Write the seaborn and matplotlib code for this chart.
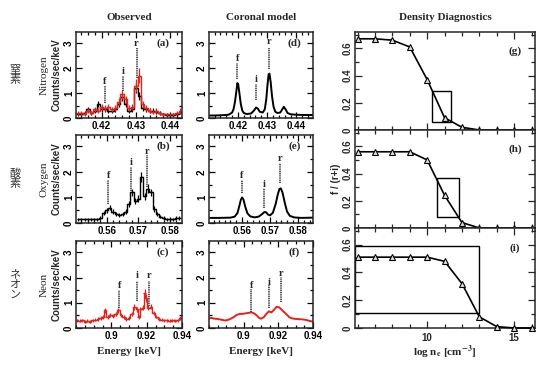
import matplotlib
matplotlib.use("Agg")
import matplotlib.pyplot as plt
from matplotlib.patches import Rectangle
from matplotlib.ticker import MultipleLocator
import seaborn as sns

# ---- observed spectra (bin centre energy [keV], counts/sec/keV, error) ----
n_energy = [0.413, 0.414, 0.415, 0.416, 0.417, 0.418, 0.419, 0.420, 0.421, 0.422,
            0.423, 0.424, 0.425, 0.426, 0.427, 0.428, 0.429, 0.430, 0.431, 0.432,
            0.433, 0.434, 0.435, 0.436, 0.437, 0.438, 0.439, 0.440, 0.441, 0.442, 0.443]
n_black = [0.15, 0.15, 0.20, 0.35, 0.20, 0.30, 0.55, 0.35, 0.35, 0.30,
           0.30, 0.35, 0.55, 0.85, 0.55, 0.30, 0.35, 1.20, 0.90, 0.40,
           0.35, 0.30, 0.30, 0.25, 0.20, 0.15, 0.12, 0.12, 0.12, 0.15, 0.25]
n_black_err = [0.08, 0.08, 0.08, 0.10, 0.08, 0.09, 0.12, 0.10, 0.10, 0.09,
               0.09, 0.10, 0.12, 0.15, 0.12, 0.09, 0.10, 0.20, 0.16, 0.10,
               0.10, 0.09, 0.09, 0.08, 0.08, 0.07, 0.07, 0.07, 0.07, 0.07, 0.09]
n_red = [0.20, 0.22, 0.18, 0.30, 0.22, 0.35, 0.30, 0.45, 0.40, 0.45,
         0.35, 0.40, 0.65, 0.95, 0.75, 0.40, 0.45, 1.30, 1.70, 0.55,
         0.40, 0.30, 0.25, 0.30, 0.20, 0.15, 0.15, 0.15, 0.15, 0.20, 0.30]
n_red_err = [0.08, 0.08, 0.08, 0.10, 0.08, 0.10, 0.09, 0.12, 0.11, 0.12,
             0.10, 0.11, 0.14, 0.18, 0.15, 0.11, 0.12, 0.25, 0.30, 0.13,
             0.11, 0.09, 0.09, 0.09, 0.08, 0.07, 0.07, 0.07, 0.07, 0.08, 0.10]

o_energy = [0.551, 0.552, 0.553, 0.554, 0.555, 0.556, 0.557, 0.558, 0.559, 0.560,
            0.561, 0.562, 0.563, 0.564, 0.565, 0.566, 0.567, 0.568, 0.569, 0.570,
            0.571, 0.572, 0.573, 0.574, 0.575, 0.576, 0.577, 0.578, 0.579, 0.580,
            0.581, 0.582, 0.583]
o_black = [0.15, 0.15, 0.15, 0.15, 0.15, 0.15, 0.15, 0.20, 0.40, 0.50,
           0.60, 0.45, 0.35, 0.30, 0.35, 0.45, 0.75, 1.20, 0.85, 0.95,
           1.80, 1.05, 1.35, 1.20, 0.55, 0.35, 0.25, 0.20, 0.15, 0.15,
           0.15, 0.20, 0.20]
o_black_err = [0.06, 0.06, 0.06, 0.06, 0.06, 0.06, 0.06, 0.07, 0.09, 0.10,
               0.10, 0.09, 0.08, 0.08, 0.08, 0.09, 0.12, 0.15, 0.12, 0.13,
               0.20, 0.14, 0.16, 0.15, 0.10, 0.08, 0.07, 0.07, 0.06, 0.06,
               0.06, 0.07, 0.07]

ne_energy = [0.8805, 0.8820, 0.8835, 0.8850, 0.8865, 0.8880, 0.8895, 0.8910, 0.8925, 0.8940,
             0.8955, 0.8965, 0.8980, 0.8995, 0.9010, 0.9025, 0.9040, 0.9055, 0.9070, 0.9085,
             0.9100, 0.9115, 0.9130, 0.9145, 0.9155, 0.9165, 0.9178, 0.9188, 0.9198, 0.9210,
             0.9225, 0.9240, 0.9255, 0.9270, 0.9285, 0.9300, 0.9315, 0.9330, 0.9345, 0.9360,
             0.9375, 0.9390]
ne_red = [0.30, 0.28, 0.30, 0.25, 0.28, 0.25, 0.30, 0.32, 0.35, 0.40,
          0.45, 0.70, 0.45, 0.50, 0.48, 0.55, 0.70, 0.50, 0.45, 0.35,
          0.40, 0.55, 0.85, 0.75, 0.45, 0.75, 0.80, 1.40, 1.20, 0.80,
          0.85, 0.60, 0.45, 0.35, 0.32, 0.30, 0.30, 0.28, 0.30, 0.28,
          0.30, 0.40]
ne_red_err = [0.06, 0.06, 0.06, 0.06, 0.06, 0.06, 0.06, 0.06, 0.07, 0.07,
              0.08, 0.10, 0.08, 0.08, 0.08, 0.08, 0.10, 0.08, 0.08, 0.07,
              0.08, 0.08, 0.12, 0.10, 0.08, 0.10, 0.10, 0.15, 0.15, 0.10,
              0.10, 0.08, 0.07, 0.07, 0.06, 0.06, 0.06, 0.06, 0.06, 0.06,
              0.06, 0.08]

# ---- coronal model spectra ----
nm_energy = [0.4100, 0.4120, 0.4140, 0.4160, 0.4170, 0.4180, 0.4185, 0.4190, 0.4195, 0.4198,
             0.4201, 0.4205, 0.4210, 0.4215, 0.4220, 0.4230, 0.4245, 0.4255, 0.4262, 0.4268,
             0.4275, 0.4285, 0.4292, 0.4297, 0.4301, 0.4305, 0.4308, 0.4312, 0.4317, 0.4322,
             0.4328, 0.4335, 0.4345, 0.4352, 0.4357, 0.4363, 0.4370, 0.4380, 0.4400, 0.4430,
             0.4457]
nm_flux = [0.10, 0.10, 0.11, 0.12, 0.14, 0.22, 0.35, 0.65, 1.10, 1.40,
           1.35, 1.00, 0.55, 0.30, 0.20, 0.16, 0.18, 0.30, 0.42, 0.38,
           0.25, 0.22, 0.35, 0.75, 1.30, 1.75, 1.78, 1.45, 0.85, 0.45,
           0.25, 0.20, 0.22, 0.35, 0.45, 0.35, 0.20, 0.15, 0.13, 0.12,
           0.12]

om_energy = [0.5484, 0.5520, 0.5560, 0.5575, 0.5585, 0.5592, 0.5597, 0.5601, 0.5606, 0.5612,
             0.5620, 0.5630, 0.5645, 0.5660, 0.5672, 0.5680, 0.5686, 0.5693, 0.5700, 0.5710,
             0.5720, 0.5727, 0.5733, 0.5738, 0.5744, 0.5752, 0.5760, 0.5770, 0.5785, 0.5810,
             0.5852]
om_flux = [0.20, 0.20, 0.21, 0.25, 0.40, 0.70, 0.92, 1.00, 0.92, 0.65,
           0.38, 0.26, 0.22, 0.25, 0.35, 0.43, 0.42, 0.33, 0.30, 0.40,
           0.75, 1.10, 1.33, 1.36, 1.20, 0.80, 0.45, 0.28, 0.22, 0.20,
           0.21]

nem_energy = [0.8800, 0.8815, 0.8830, 0.8850, 0.8870, 0.8890, 0.8905, 0.8920, 0.8940, 0.8960,
              0.8980, 0.8995, 0.9010, 0.9030, 0.9045, 0.9060, 0.9075, 0.9090, 0.9100, 0.9115,
              0.9130, 0.9145, 0.9160, 0.9175, 0.9190, 0.9205, 0.9220, 0.9235, 0.9250, 0.9265,
              0.9280, 0.9300, 0.9320, 0.9340, 0.9360, 0.9380, 0.9400]
nem_flux = [0.38, 0.40, 0.37, 0.36, 0.33, 0.30, 0.31, 0.35, 0.42, 0.52,
            0.56, 0.56, 0.58, 0.60, 0.62, 0.58, 0.50, 0.40, 0.37, 0.42,
            0.55, 0.66, 0.62, 0.72, 0.84, 0.82, 0.72, 0.62, 0.52, 0.42,
            0.38, 0.36, 0.35, 0.34, 0.32, 0.28, 0.25]

# ---- f / i / r line markers: energy, line bottom, line top, letter height ----
line_names = ["f", "i", "r"]
a_pos, a_lo, a_hi, a_lab = [0.4210, 0.4263, 0.4302], [0.60, 1.08, 1.60], [1.30, 1.70, 2.80], [1.48, 1.87, 3.00]
b_pos, b_lo, b_hi, b_lab = [0.5605, 0.5677, 0.5726], [0.73, 1.26, 1.40], [1.70, 2.20, 2.66], [1.86, 2.36, 2.82]
c_pos, c_lo, c_hi, c_lab = [0.9045, 0.9144, 0.9213], [0.81, 1.08, 0.88], [1.52, 1.88, 1.88], [1.68, 2.08, 2.08]
d_pos, d_lo, d_hi, d_lab = [0.4198, 0.4263, 0.4307], [1.55, 0.72, 1.97], [2.20, 1.35, 2.80], [2.39, 1.55, 3.08]
e_pos, e_lo, e_hi, e_lab = [0.5600, 0.5680, 0.5736], [1.17, 0.57, 1.57], [1.70, 1.37, 2.37], [1.85, 1.49, 2.52]
f_pos, f_lo, f_hi, f_lab = [0.9045, 0.9146, 0.9218], [0.65, 0.79, 1.04], [1.56, 1.69, 2.02], [1.69, 1.82, 2.15]

# ---- density diagnostics ----
log_ne = [6, 7, 8, 9, 10, 11, 12, 13, 14, 15, 16]
ratio_n = [0.67, 0.67, 0.66, 0.61, 0.37, 0.09, 0.02, 0.0, 0.0, 0.0, 0.0]
ratio_o = [0.56, 0.56, 0.56, 0.56, 0.50, 0.24, 0.04, 0.0, 0.0, 0.0, 0.0]
ratio_ne = [0.51, 0.51, 0.51, 0.51, 0.51, 0.48, 0.32, 0.08, 0.01, 0.0, 0.0]
# measured ranges: log n min, log n max, ratio min, ratio max
box_n = [10.29, 11.39, 0.057, 0.286]
box_o = [10.58, 11.83, 0.08, 0.364]
box_ne = [5.85, 13.0, 0.11, 0.593]

row_names = ["Nitrogen", "Oxygen", "Neon"]
row_names_jp = ["窒素", "酸素", "ネオン"]

spec_yticks = [0, 1, 2, 3]
n_xticks = [0.42, 0.43, 0.44]
o_xticks = [0.56, 0.57, 0.58]
ne_xticks = [0.9, 0.92, 0.94]
ratio_yticks = [0, 0.2, 0.4, 0.6]
logn_xticks = [10, 15]

SERIF = "Liberation Serif"
SANS = "Liberation Sans"
TICKFONT = dict(family=SANS, fontweight="bold", fontsize=7)

sns.set_theme(style="ticks")
plt.rcParams["font.family"] = [SANS, "DejaVu Sans"]
plt.rcParams["axes.linewidth"] = 1.1
plt.rcParams["xtick.direction"] = "in"
plt.rcParams["ytick.direction"] = "in"

fig = plt.figure(figsize=(5.46, 3.66), dpi=100)

W = 546.0
H = 366.0


def px_axes(x0, y0, x1, y1):
    return fig.add_axes([x0 / W, 1 - y1 / H, (x1 - x0) / W, (y1 - y0) / H])


def fmt(v):
    return f"{v:g}"


def style_spec(ax, xlim, xticks, xmin_step):
    ax.set_xlim(*xlim)
    ax.set_ylim(0, 3.45)
    ax.set_xticks(xticks, [fmt(v) for v in xticks], **TICKFONT)
    ax.set_yticks(spec_yticks, [fmt(v) for v in spec_yticks], va="center", **TICKFONT)
    ax.xaxis.set_minor_locator(MultipleLocator(xmin_step))
    ax.yaxis.set_minor_locator(MultipleLocator(0.5))
    ax.tick_params(which="both", top=True, right=True, width=0.9, colors="black")
    ax.tick_params(which="major", length=4)
    ax.tick_params(which="minor", length=2)
    ax.tick_params(axis="y", labelrotation=90, pad=1.5)
    ax.tick_params(axis="x", pad=2.5)
    ax.set_xlabel("")
    ax.set_ylabel("")


def fir_lines(ax, pos, lo, hi, lab):
    for p, a, b, c, name in zip(pos, lo, hi, lab, line_names):
        ax.plot([p, p], [a, b], color="#444444", lw=1.3, ls=(0, (0.6, 0.4)))
        ax.text(p, c, name, ha="center", va="center", family=SERIF,
                fontweight="bold", fontsize=7.5)


def observed(ax, energy, flux, err, color, half):
    sns.lineplot(x=energy, y=flux, ax=ax, color=color, lw=1.0,
                 drawstyle="steps-mid", estimator=None, sort=False)
    ax.errorbar(energy, flux, xerr=half, yerr=err, fmt="none",
                ecolor=color, elinewidth=0.9, capsize=0)


def panel_tag(ax, text, x, y):
    ax.text(x, y, text, transform=ax.transAxes, ha="center", va="center",
            family=SERIF, fontweight="bold", fontsize=8)


rows_y = [(32, 118), (135, 223), (241, 328)]
obs_axes = [px_axes(76, y0, 182, y1) for y0, y1 in rows_y]
mod_axes = [px_axes(209, y0, 313, y1) for y0, y1 in rows_y]
den_axes = [px_axes(355, 32, 535, 130), px_axes(355, 130, 535, 228), px_axes(355, 228, 535, 328)]

# observed
ax = obs_axes[0]
observed(ax, n_energy, n_black, n_black_err, "black", 0.0005)
observed(ax, n_energy, n_red, n_red_err, "#e8201a", 0.0005)
fir_lines(ax, a_pos, a_lo, a_hi, a_lab)
style_spec(ax, (0.4125, 0.4435), n_xticks, 0.002)
panel_tag(ax, "(a)", 0.82, 0.87)

ax = obs_axes[1]
observed(ax, o_energy, o_black, o_black_err, "black", 0.0005)
fir_lines(ax, b_pos, b_lo, b_hi, b_lab)
style_spec(ax, (0.5503, 0.5838), o_xticks, 0.002)
panel_tag(ax, "(b)", 0.82, 0.87)

ax = obs_axes[2]
observed(ax, ne_energy, ne_red, ne_red_err, "#e8201a", 0.00075)
fir_lines(ax, c_pos, c_lo, c_hi, c_lab)
style_spec(ax, (0.88, 0.94), ne_xticks, 0.005)
panel_tag(ax, "(c)", 0.82, 0.87)

# coronal model
ax = mod_axes[0]
sns.lineplot(x=nm_energy, y=nm_flux, ax=ax, color="black", lw=1.4, estimator=None, sort=False)
fir_lines(ax, d_pos, d_lo, d_hi, d_lab)
style_spec(ax, (0.4101, 0.4457), n_xticks, 0.002)
panel_tag(ax, "(d)", 0.82, 0.87)

ax = mod_axes[1]
sns.lineplot(x=om_energy, y=om_flux, ax=ax, color="black", lw=1.4, estimator=None, sort=False)
fir_lines(ax, e_pos, e_lo, e_hi, e_lab)
style_spec(ax, (0.5484, 0.5852), o_xticks, 0.002)
panel_tag(ax, "(e)", 0.82, 0.87)

ax = mod_axes[2]
sns.lineplot(x=nem_energy, y=nem_flux, ax=ax, color="#e8201a", lw=1.4, estimator=None, sort=False)
fir_lines(ax, f_pos, f_lo, f_hi, f_lab)
style_spec(ax, (0.88, 0.94), ne_xticks, 0.005)
panel_tag(ax, "(f)", 0.82, 0.87)

for ax in obs_axes:
    ax.set_ylabel("Counts/sec/keV", family=SANS, fontweight="bold", fontsize=7, labelpad=2)

# density diagnostics
for k, (ax, ratio, box, tag) in enumerate(zip(den_axes, [ratio_n, ratio_o, ratio_ne],
                                              [box_n, box_o, box_ne], ["(g)", "(h)", "(i)"])):
    sns.lineplot(x=log_ne, y=ratio, ax=ax, color="black", lw=1.2, marker="^",
                 markersize=4.5, markerfacecolor="#dddddd", markeredgecolor="black",
                 markeredgewidth=0.8, estimator=None, sort=False, clip_on=False, zorder=3)
    ax.add_patch(Rectangle((box[0], box[2]), box[1] - box[0], box[3] - box[2],
                           fill=False, ec="black", lw=1.0))
    ax.set_xlim(5.85, 16.2)
    ax.set_ylim(0, 0.72)
    ax.set_xticks(logn_xticks, [fmt(v) for v in logn_xticks], **TICKFONT)
    ax.set_yticks(ratio_yticks, [fmt(v) for v in ratio_yticks], va="center", **TICKFONT)
    ax.xaxis.set_minor_locator(MultipleLocator(1))
    ax.yaxis.set_minor_locator(MultipleLocator(0.1))
    ax.tick_params(which="both", top=True, right=True, width=0.9)
    ax.tick_params(which="major", length=5)
    ax.tick_params(which="minor", length=3)
    ax.tick_params(axis="y", labelrotation=90, pad=1.5)
    if k < 2:
        ax.tick_params(axis="x", labelbottom=False)
    ax.set_xlabel("")
    ax.set_ylabel("")
    panel_tag(ax, tag, 0.89, 0.80)

# headers and axis titles
for text, xc in [("Observed", 129), ("Coronal model", 261), ("Density Diagnostics", 445)]:
    fig.text(xc / W, 1 - 17 / H, text, ha="center", va="center",
             family=SERIF, fontweight="bold", fontsize=8)
for xc in [129, 261]:
    fig.text(xc / W, 1 - 352 / H, "Energy [keV]", ha="center", va="center",
             family=SERIF, fontweight="bold", fontsize=8)
fig.text(445 / W, 1 - 352 / H, r"log n$_\mathbf{e}$ [cm$^{\mathbf{-3}}$]", ha="center",
         va="center", family=SERIF, fontweight="bold", fontsize=8, math_fontfamily="stix")
fig.text(336 / W, 1 - 179 / H, "f / (r+i)", ha="center", va="center", rotation=90,
         family=SANS, fontweight="bold", fontsize=7)

for (y0, y1), name, jp in zip(rows_y, row_names, row_names_jp):
    yc = 1 - (y0 + y1) / 2 / H
    fig.text(44 / W, yc, name, ha="center", va="center", rotation=90,
             family=SERIF, fontsize=8)
    fig.text(15 / W, yc, "\n".join(jp), ha="center", va="center",
             family=["Noto Sans CJK JP", "DejaVu Sans"], fontsize=8,
             color="#333333", linespacing=1.0)

fig.savefig("out.png", dpi=100)
